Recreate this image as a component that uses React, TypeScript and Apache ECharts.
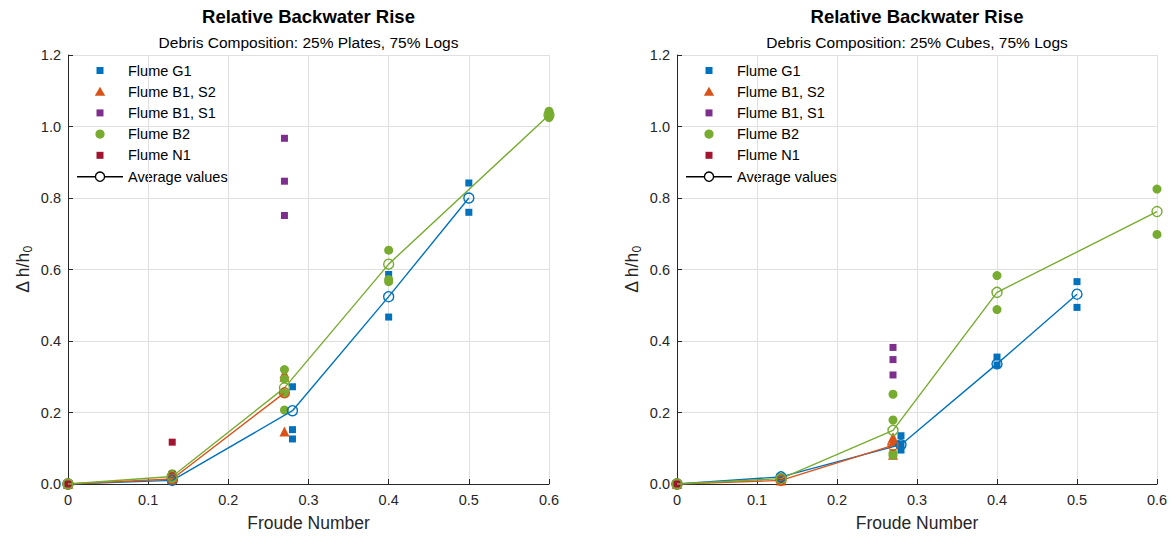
import React, { useEffect, useRef } from "react";
import * as echarts from "echarts";

type Pt = [number, number];

// ---------- Data ----------
const TITLE = "Relative Backwater Rise";
const SUBTITLES = ["Debris Composition: 25% Plates, 75% Logs", "Debris Composition: 25% Cubes, 75% Logs"];
const X_LABEL = "Froude Number";
const LEGEND_NAMES = ["Flume G1", "Flume B1, S2", "Flume B1, S1", "Flume B2", "Flume N1", "Average values"];

// Left panel: 25% Plates, 75% Logs
const platesG1: Pt[] = [[0, 0], [0.13, 0.008], [0.13, 0.012], [0.28, 0.272], [0.28, 0.152], [0.28, 0.126], [0.4, 0.586], [0.4, 0.467], [0.5, 0.842], [0.5, 0.76]];
const platesB1S2: Pt[] = [[0, 0], [0.13, 0.014], [0.27, 0.31], [0.27, 0.3], [0.27, 0.147]];
const platesB1S1: Pt[] = [[0.27, 0.967], [0.27, 0.847], [0.27, 0.751]];
const platesB2: Pt[] = [[0, 0], [0.13, 0.029], [0.13, 0.015], [0.27, 0.32], [0.27, 0.294], [0.27, 0.254], [0.27, 0.207], [0.4, 0.654], [0.4, 0.572], [0.4, 0.566], [0.6, 1.043], [0.6, 1.035], [0.6, 1.025]];
const platesN1: Pt[] = [[0, 0], [0.13, 0.117], [0.13, 0.027]];
const platesAvgG1: Pt[] = [[0, 0], [0.13, 0.01], [0.28, 0.205], [0.4, 0.524], [0.5, 0.8]];
const platesAvgB1S2: Pt[] = [[0, 0], [0.13, 0.014], [0.27, 0.255]];
const platesAvgB2: Pt[] = [[0, 0], [0.13, 0.021], [0.27, 0.269], [0.4, 0.615], [0.6, 1.032]];

// Right panel: 25% Cubes, 75% Logs
const cubesG1: Pt[] = [[0, 0], [0.13, 0.02], [0.28, 0.135], [0.28, 0.112], [0.28, 0.095], [0.4, 0.355], [0.4, 0.333], [0.5, 0.566], [0.5, 0.494]];
const cubesB1S2: Pt[] = [[0, 0], [0.13, 0.01], [0.27, 0.131], [0.27, 0.118], [0.27, 0.082]];
const cubesB1S1: Pt[] = [[0.27, 0.382], [0.27, 0.348], [0.27, 0.305]];
const cubesB2: Pt[] = [[0, 0], [0.13, 0.015], [0.27, 0.251], [0.27, 0.179], [0.27, 0.086], [0.27, 0.08], [0.4, 0.583], [0.4, 0.488], [0.6, 0.825], [0.6, 0.698]];
const cubesN1: Pt[] = [[0, 0], [0.13, 0.01]];
const cubesAvgG1: Pt[] = [[0, 0], [0.13, 0.02], [0.28, 0.11], [0.4, 0.336], [0.5, 0.531]];
const cubesAvgB1S2: Pt[] = [[0, 0], [0.13, 0.01], [0.27, 0.108]];
const cubesAvgB2: Pt[] = [[0, 0], [0.13, 0.015], [0.27, 0.15], [0.4, 0.536], [0.6, 0.762]];

const X_MIN = 0, X_MAX = 0.6, X_STEP = 0.1;
const Y_MIN = 0, Y_MAX = 1.2, Y_STEP = 0.2;

// ---------- Styles ----------
const C_BLUE = "#0072BD";
const C_ORANGE = "#D95319";
const C_PURPLE = "#7E2F8E";
const C_GREEN = "#77AC30";
const C_RED = "#A2142F";
const AX = "#262626";
const GRIDC = "#e0e0e0";
const FONT = "'Liberation Sans', Arial, Helvetica, sans-serif";

const PANELS = [
  { left: 68, width: 481 },
  { left: 677, width: 480 },
];
const TOP = 55;
const HEIGHT = 432;

function scatter(data: Pt[], color: string, symbol: string, size: number, idx: number) {
  return {
    type: "scatter",
    xAxisIndex: idx,
    yAxisIndex: idx,
    data,
    symbol,
    symbolSize: size,
    itemStyle: { color, opacity: 1 },
    emphasis: { disabled: true },
    silent: true,
  };
}

function avgLine(data: Pt[], color: string, idx: number) {
  return {
    type: "line",
    xAxisIndex: idx,
    yAxisIndex: idx,
    data,
    symbol: "circle",
    symbolSize: 10,
    showAllSymbol: true,
    lineStyle: { color, width: 1.4 },
    itemStyle: { color: "rgba(0,0,0,0)", borderColor: color, borderWidth: 1.4 },
    emphasis: { disabled: true },
    silent: true,
  };
}

function legendGraphic(ox: number) {
  const mx = ox + 32;
  const tx = ox + 60;
  const rows = [70.5, 91.7, 112.9, 134.1, 155.3, 176.7];
  const children: any[] = [
    { type: "rect", shape: { x: ox + 1, y: TOP + 1, width: 165, height: 134 }, style: { fill: "#ffffff" } },
  ];
  const txt = (i: number) => ({
    type: "text",
    x: tx,
    y: rows[i],
    style: { text: LEGEND_NAMES[i], fill: "#000", font: `14.5px ${FONT}`, textVerticalAlign: "middle", verticalAlign: "middle" },
  });
  children.push({ type: "rect", shape: { x: mx - 3.5, y: rows[0] - 3.5, width: 7, height: 7 }, style: { fill: C_BLUE } });
  children.push({ type: "polygon", shape: { points: [[mx, rows[1] - 5], [mx + 5.2, rows[1] + 4], [mx - 5.2, rows[1] + 4]] }, style: { fill: C_ORANGE } });
  children.push({ type: "rect", shape: { x: mx - 3.5, y: rows[2] - 3.5, width: 7, height: 7 }, style: { fill: C_PURPLE } });
  children.push({ type: "circle", shape: { cx: mx, cy: rows[3], r: 4.6 }, style: { fill: C_GREEN } });
  children.push({ type: "rect", shape: { x: mx - 3.5, y: rows[4] - 3.5, width: 7, height: 7 }, style: { fill: C_RED } });
  children.push({ type: "line", shape: { x1: mx - 23, y1: rows[5], x2: mx + 23, y2: rows[5] }, style: { stroke: "#000", lineWidth: 1.4 } });
  children.push({ type: "circle", shape: { cx: mx, cy: rows[5], r: 4.6 }, style: { fill: "#fff", stroke: "#000", lineWidth: 1.4 } });
  for (let i = 0; i < LEGEND_NAMES.length; i++) children.push(txt(i));
  return { type: "group", z: 100, children };
}

export default function App() {
  const ref = useRef<HTMLDivElement>(null);

  useEffect(() => {
    if (!ref.current) return;
    const chart = echarts.init(ref.current, undefined, { renderer: "svg" });

    const xAxes = PANELS.map((_, i) => ({
      type: "value",
      gridIndex: i,
      min: X_MIN,
      max: X_MAX,
      interval: X_STEP,
      name: X_LABEL,
      nameLocation: "middle",
      nameGap: 30,
      nameTextStyle: { color: AX, fontSize: 17.5, fontFamily: FONT },
      axisLine: { show: true, onZero: false, lineStyle: { color: AX, width: 1 } },
      axisTick: { show: true, inside: true, length: 5, lineStyle: { color: AX } },
      axisLabel: {
        color: AX,
        fontSize: 14.5,
        fontFamily: FONT,
        margin: 8,
        formatter: (v: number) => (v === 0 ? "0" : v.toFixed(1)),
      },
      splitLine: { show: true, lineStyle: { color: GRIDC, width: 1 } },
    }));

    const yAxes = PANELS.map((_, i) => ({
      type: "value",
      gridIndex: i,
      min: Y_MIN,
      max: Y_MAX,
      interval: Y_STEP,
      name: "{a|Δ h/h}{b|0}",
      nameLocation: "middle",
      nameGap: 34,
      nameRotate: 90,
      nameTextStyle: {
        color: AX,
        fontFamily: FONT,
        rich: {
          a: { fontSize: 17.5, color: AX, fontFamily: FONT },
          b: { fontSize: 12, color: AX, fontFamily: FONT, padding: [10, 0, 0, 0] },
        },
      },
      axisLine: { show: true, onZero: false, lineStyle: { color: AX, width: 1 } },
      axisTick: { show: true, inside: true, length: 5, lineStyle: { color: AX } },
      axisLabel: {
        color: AX,
        fontSize: 14.5,
        fontFamily: FONT,
        margin: 7,
        formatter: (v: number) => v.toFixed(1),
      },
      splitLine: { show: true, lineStyle: { color: GRIDC, width: 1 } },
    }));

    const panelData = [
      { G1: platesG1, B1S2: platesB1S2, B1S1: platesB1S1, B2: platesB2, N1: platesN1, aG1: platesAvgG1, aB1S2: platesAvgB1S2, aB2: platesAvgB2 },
      { G1: cubesG1, B1S2: cubesB1S2, B1S1: cubesB1S1, B2: cubesB2, N1: cubesN1, aG1: cubesAvgG1, aB1S2: cubesAvgB1S2, aB2: cubesAvgB2 },
    ];

    const series: any[] = [];
    panelData.forEach((d, i) => {
      series.push(scatter(d.G1, C_BLUE, "rect", 7, i));
      series.push(scatter(d.B1S2, C_ORANGE, "triangle", 10, i));
      series.push(scatter(d.B1S1, C_PURPLE, "rect", 7, i));
      series.push(scatter(d.B2, C_GREEN, "circle", 9, i));
      series.push(scatter(d.N1, C_RED, "rect", 7, i));
    });
    panelData.forEach((d, i) => {
      series.push(avgLine(d.aG1, C_BLUE, i));
      series.push(avgLine(d.aB1S2, C_ORANGE, i));
      series.push(avgLine(d.aB2, C_GREEN, i));
    });

    const titles: any[] = [];
    PANELS.forEach((p, i) => {
      const cx = p.left + p.width / 2;
      titles.push({
        text: TITLE,
        left: cx,
        top: 7,
        textAlign: "center",
        textStyle: { color: "#000", fontSize: 18.5, fontWeight: "bold", fontFamily: FONT },
      });
      titles.push({
        text: SUBTITLES[i],
        left: cx,
        top: 34,
        textAlign: "center",
        textStyle: { color: "#000", fontSize: 15.5, fontWeight: "normal", fontFamily: FONT },
      });
    });

    chart.setOption({
      animation: false,
      backgroundColor: "#ffffff",
      title: titles.map((t) => ({ ...t, padding: 0 })),
      grid: PANELS.map((p) => ({ left: p.left, top: TOP, width: p.width, height: HEIGHT, containLabel: false })),
      xAxis: xAxes,
      yAxis: yAxes,
      series,
      graphic: PANELS.map((p) => legendGraphic(p.left)),
    });

    return () => chart.dispose();
  }, []);

  return <div ref={ref} style={{ position: "fixed", left: 0, top: 0, width: 1172, height: 537 }} />;
}
